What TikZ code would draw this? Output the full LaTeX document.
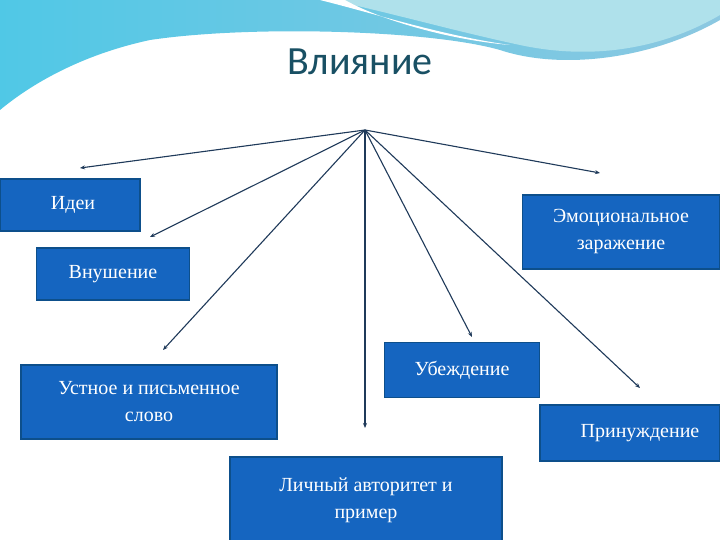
\documentclass[tikz,border=0pt]{standalone}
\usepackage{fontspec}
\usetikzlibrary{arrows.meta}
\setmainfont{Liberation Serif}
\newfontfamily\titlefont{Carlito}
\definecolor{boxfill}{RGB}{21,101,192}
\definecolor{boxline}{RGB}{13,79,139}
\definecolor{arrowc}{RGB}{31,58,90}
\definecolor{titlec}{RGB}{25,80,100}
\definecolor{skyA}{RGB}{80,200,230}
\definecolor{skyB}{RGB}{140,200,225}
\definecolor{skyC}{RGB}{175,225,235}
\begin{document}
\begin{tikzpicture}[x=1pt,y=-1pt,
  bx/.style={draw=boxline,line width=1.2pt,fill=boxfill,text=white,font=\fontsize{20}{27}\selectfont,align=center,inner sep=0pt},
  ar/.style={draw=arrowc,line width=1.1pt,-{Stealth[length=5pt,width=4pt]}}]
\useasboundingbox (0,0) rectangle (720,540);
\fill[white] (0,0) rectangle (720,540);
% top decoration
\shade[left color=skyA,right color=skyB]
 (0,0) -- (720,0) -- (720,20) .. controls (650,60) and (560,70) .. (500,50)
 .. controls (430,30) and (250,25) .. (150,40) .. controls (80,55) and (30,85) .. (0,110) -- cycle;
\fill[skyC] (330,0) -- (720,0) -- (720,15) .. controls (660,50) and (590,60) .. (520,45) .. controls (450,30) and (380,10) .. (330,0) -- cycle;
\fill[white] (320,0) .. controls (380,15) and (440,35) .. (510,45) .. controls (450,40) and (380,20) .. (345,0) -- cycle;
\node[font=\titlefont\fontsize{40}{48}\selectfont,text=titlec] (t) at (360,62) {Влияние};
% boxes
\node[bx,minimum width=140pt,minimum height=52pt] (a) at (70,205) {};
\node[text=white,font=\fontsize{20}{24}\selectfont] (at) at (73,205) {Идеи};
\node[bx,minimum width=153pt,minimum height=52pt] (b) at (113,274) {Внушение};
\node[bx,minimum width=197pt,minimum height=74pt] (c) at (621,232) {Эмоциональное\\заражение};
\node[bx,minimum width=256pt,minimum height=74pt] (d) at (149,402) {Устное и письменное\\слово};
\node[bx,minimum width=155pt,minimum height=55pt] (e) at (462,370) {Убеждение};
\node[bx,minimum width=180pt,minimum height=56pt] (f) at (630,433) {\hspace*{20pt}Принуждение};
\node[bx,minimum width=272pt,minimum height=86pt] (g) at (366,500) {Личный авторитет и\\пример};
% arrows
\coordinate (o) at (365,130);
\coordinate (e1) at (80,168);
\coordinate (e2) at (150,237);
\coordinate (e3) at (163,350);
\coordinate (e4) at (365,428);
\coordinate (e5) at (472,337);
\coordinate (e6) at (640,388);
\coordinate (e7) at (600,173);
\foreach \i in {1,...,7} \draw[ar] (o) -- (e\i);
\end{tikzpicture}
\end{document}
